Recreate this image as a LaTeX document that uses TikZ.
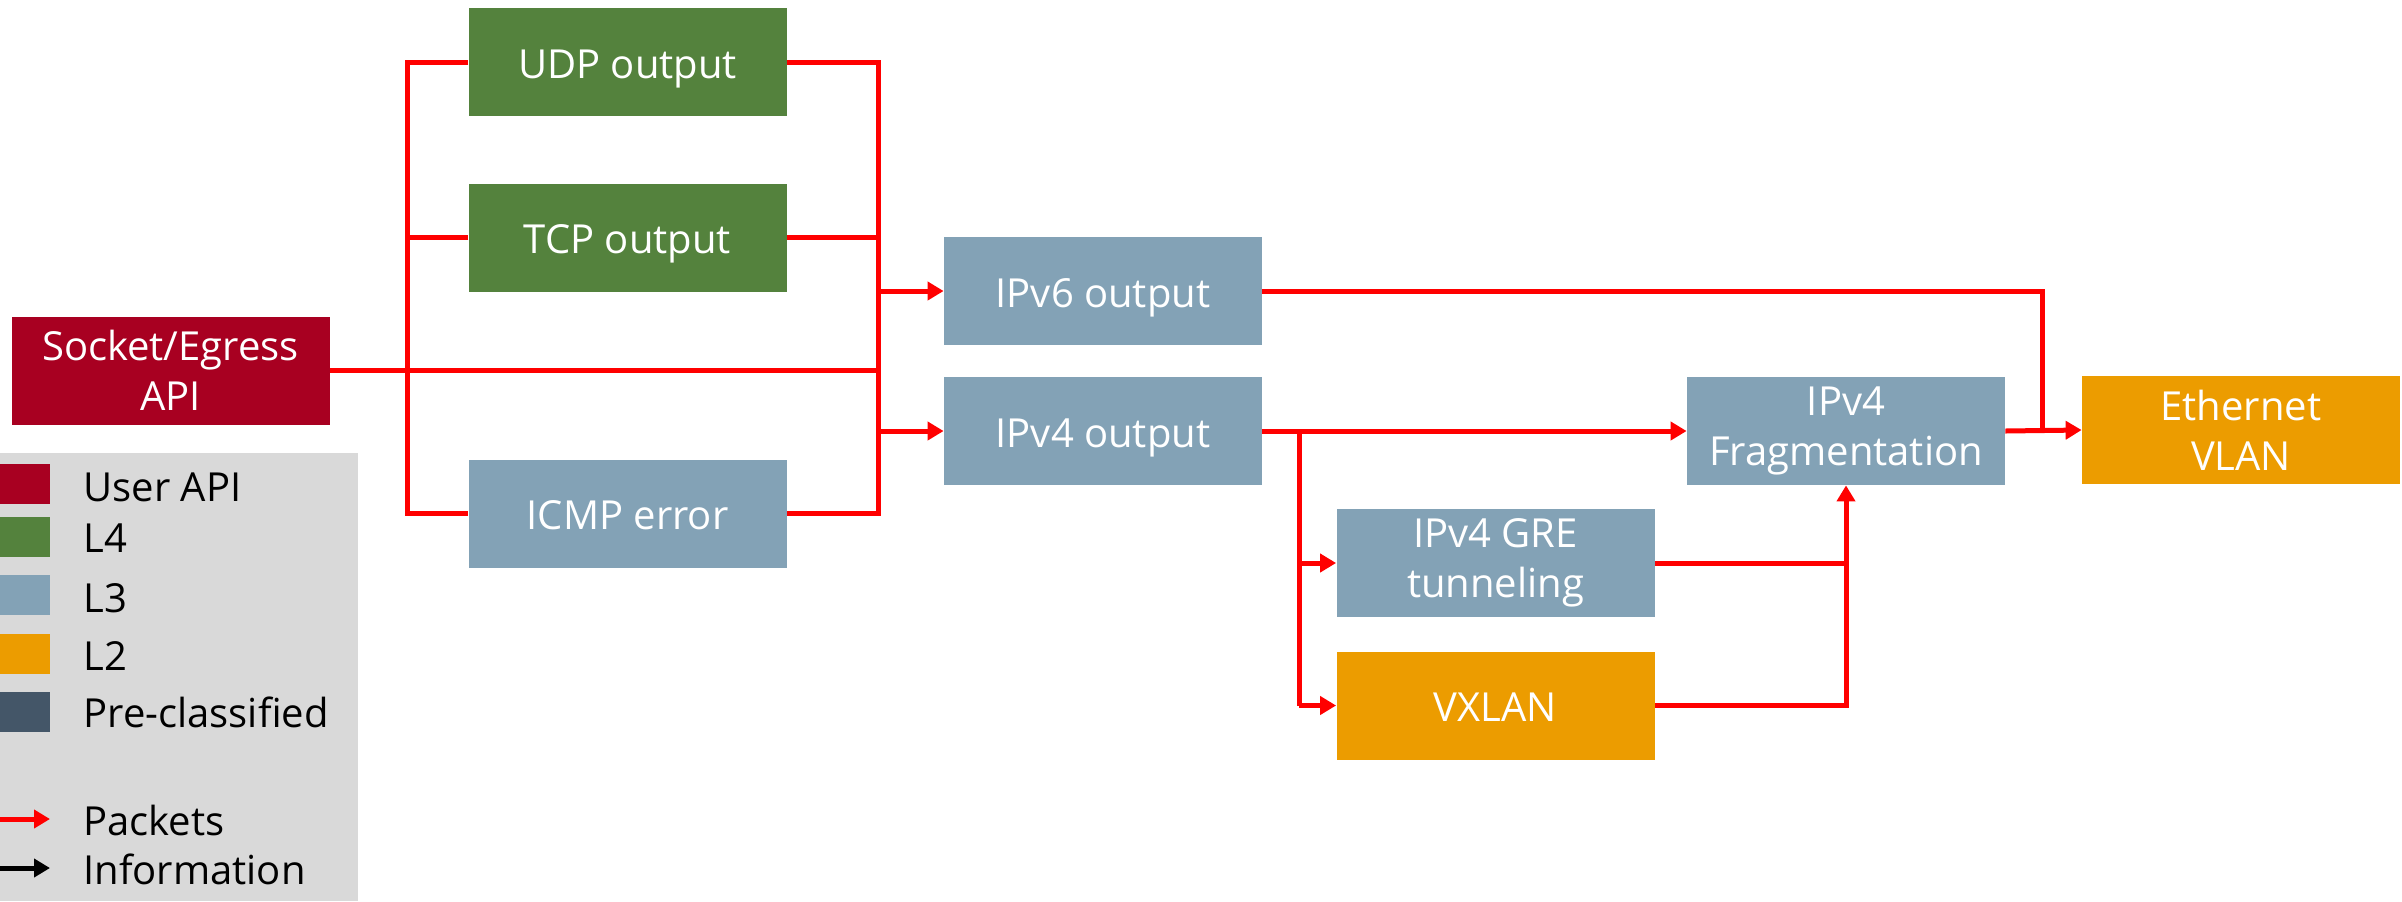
\documentclass[tikz,border=0pt]{standalone}
\usepackage{fontspec}
\setmainfont{Open Sans}
\usetikzlibrary{arrows.meta}
\definecolor{apired}{RGB}{168,0,33}
\definecolor{lfour}{RGB}{84,130,61}
\definecolor{lthree}{RGB}{131,162,182}
\definecolor{ltwo}{RGB}{236,156,0}
\definecolor{precls}{RGB}{68,86,104}
\definecolor{legbg}{RGB}{217,217,217}
\definecolor{pkred}{RGB}{255,0,0}
\tikzset{
  blk/.style={rectangle, inner sep=0pt, minimum width=159pt, minimum height=54pt,
    text=white, align=center, font=\fontsize{20}{25}\selectfont},
  oneline/.style={text height=16pt, text depth=0pt},
  pk/.style={draw=pkred, line width=2.5pt},
  pka/.style={pk, -{Triangle[length=8pt,width=9pt]}},
  swatch/.style={rectangle, inner sep=0pt, minimum width=25pt, minimum height=20pt, anchor=west},
  legtxt/.style={anchor=west, inner sep=0pt, font=\fontsize{20}{25}\selectfont}
}
\begin{document}
\begin{tikzpicture}[x=0.5pt, y=-0.5pt]
\useasboundingbox (0,0) rectangle (2402,901);

% legend panel
\fill[legbg] (0,453) rectangle (358,901);
\node[swatch, fill=apired] (swa) at (0,484) {};
\node[swatch, fill=lfour]  (swb) at (0,537) {};
\node[swatch, fill=lthree] (swc) at (0,595) {};
\node[swatch, fill=ltwo]   (swd) at (0,654) {};
\node[swatch, fill=precls] (swe) at (0,712) {};
\node[legtxt] (la) at (83,487) {User API};
\node[legtxt] (lb4) at (83,538) {L4};
\node[legtxt] (lc) at (83,598) {L3};
\node[legtxt] (ld) at (83,656) {L2};
\node[legtxt] (le) at (83,712) {Pre-classified};
\node[legtxt] (lf) at (83,820) {Packets};
\node[legtxt] (lg) at (83,869) {Information};
\coordinate (pa0) at (0,819);  \coordinate (pa1) at (50,819);
\coordinate (ia0) at (0,868);  \coordinate (ia1) at (50,868);
\draw[pka] (pa0) -- (pa1);
\draw[line width=2.5pt, -{Triangle[length=8pt,width=9pt]}] (ia0) -- (ia1);

% blocks
\node[blk, fill=apired] (socket) at (170.5,370.5) {Socket/Egress\\API};
\node[blk, oneline, fill=lfour]  (udp)  at (627.5,62)  {UDP output};
\node[blk, oneline, fill=lfour]  (tcp)  at (627.5,237.5) {TCP output};
\node[blk, oneline, fill=lthree] (icmp) at (627.5,513.5) {ICMP error};
\node[blk, oneline, fill=lthree] (ipv6) at (1103,291) {IPv6 output};
\node[blk, oneline, fill=lthree] (ipv4) at (1103,431) {IPv4 output};
\node[blk, fill=lthree] (frag) at (1846,431) {IPv4\\Fragmentation};
\node[blk, fill=ltwo]   (eth)  at (2241,430) {Ethernet\\VLAN};
\node[blk, fill=lthree] (gre)  at (1495.5,563) {IPv4 GRE\\tunneling};
\node[blk, oneline, fill=ltwo]   (vxlan) at (1495.5,705.5) {VXLAN};

% bus positions
\coordinate (lbus) at (407,0);
\coordinate (rbus) at (878,0);
\coordinate (br4) at (1299,0);
\coordinate (dj6) at (2042,0);

% L4 fan-in / fan-out
\draw[pk] (udp.west) -- (udp.west -| lbus) -- (icmp.west -| lbus) -- (icmp.west);
\draw[pk] (tcp.west) -- (tcp.west -| lbus);
\draw[pk] (udp.east) -- (udp.east -| rbus) -- (icmp.east -| rbus) -- (icmp.east);
\draw[pk] (tcp.east) -- (tcp.east -| rbus);
\draw[pk] (socket.east) -- (socket.east -| rbus);
\draw[pka] (ipv6.west -| rbus) -- (ipv6.west);
\draw[pka] (ipv4.west -| rbus) -- (ipv4.west);

% IPv4 path
\draw[pka] (ipv4.east) -- (frag.west);
\draw[pk] (ipv4.east -| br4) -- (vxlan.west -| br4);
\draw[pka] (gre.west -| br4) -- (gre.west);
\draw[pka] (vxlan.west -| br4) -- (vxlan.west);
\draw[pk] (gre.east) -- (gre.east -| frag.south);
\draw[pka] (vxlan.east) -| (frag.south);
\draw[pka] (frag.east) -- (eth.west);

% IPv6 path
\draw[pk] (ipv6.east) -- (ipv6.east -| dj6) -- (frag.east -| dj6);
\end{tikzpicture}
\end{document}
